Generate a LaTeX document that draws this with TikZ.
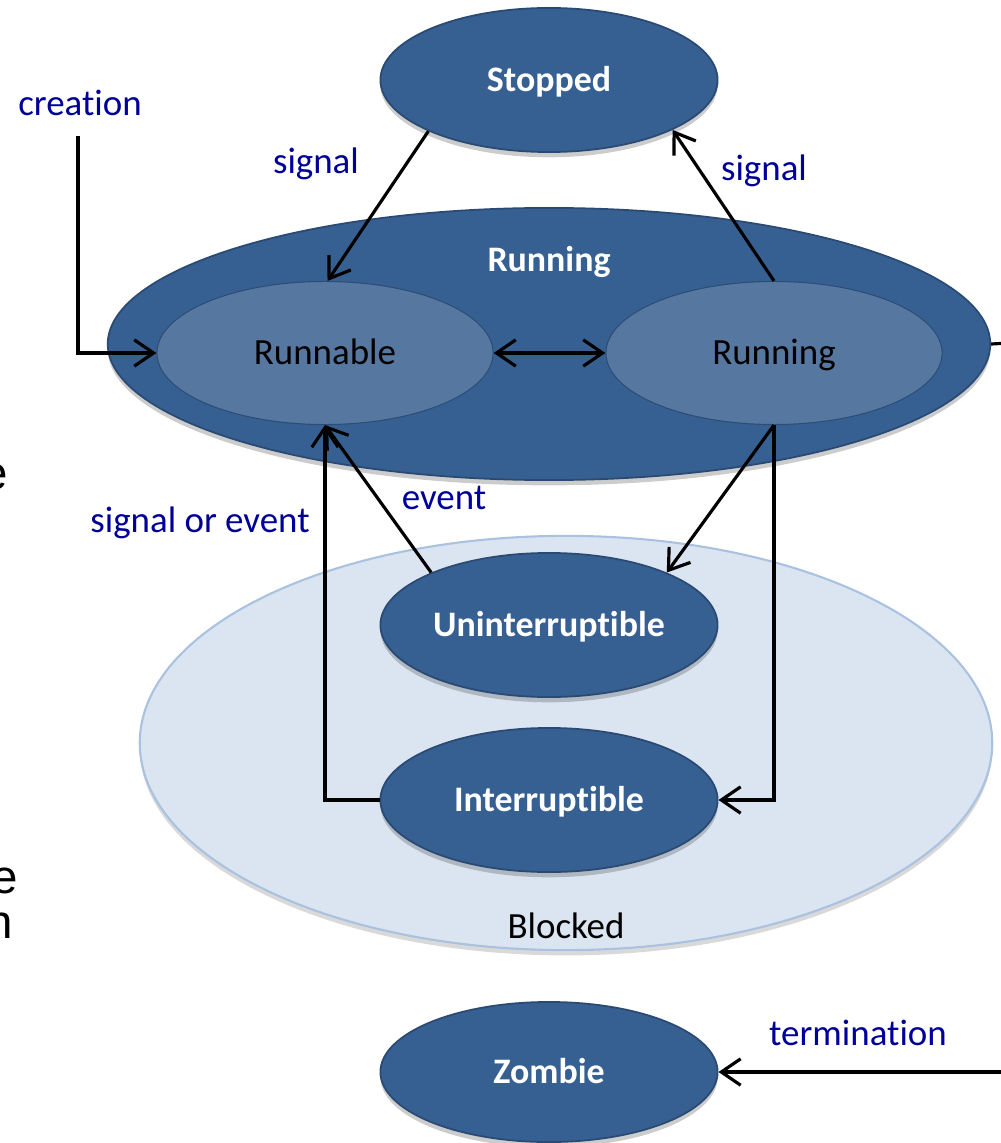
\documentclass[tikz,border=0pt]{standalone}
\usepackage{fontspec}
\setmainfont{Carlito}[Ligatures=CommonOff]
\newfontfamily\slidefont{Liberation Sans}
\usetikzlibrary{arrows.meta,shapes.geometric,shadows}

\definecolor{statefill}{RGB}{55,96,146}
\definecolor{stateborder}{RGB}{42,74,115}
\definecolor{innerfill}{RGB}{86,119,160}
\definecolor{blockfill}{RGB}{219,229,241}
\definecolor{blockborder}{RGB}{170,194,224}
\definecolor{lblblue}{RGB}{0,0,153}

\begin{document}
\begin{tikzpicture}[x=0.01cm, y=-0.01cm,
    every node/.style={font=\fontsize{10.5}{12}\selectfont},
    >={Straight Barb[length=5.5pt,width=7.5pt]},
    state/.style={ellipse, draw=stateborder, fill=statefill, line width=0.5pt,
        minimum width=3.37cm, minimum height=1.44cm, inner sep=0pt, text=white,
        text height=8pt, text depth=1.2pt,
        font=\fontsize{10.2}{12}\selectfont\bfseries,
        drop shadow={shadow xshift=0pt, shadow yshift=-1.5pt, opacity=0.2, fill=black}},
    inner/.style={ellipse, fill=innerfill, draw=statefill!80!black, line width=0.3pt,
        minimum width=3.36cm, minimum height=1.43cm, inner sep=0pt, text=black,
        text height=8pt, text depth=1.2pt},
    lbl/.style={text=lblblue, anchor=base, inner sep=0pt},
    flow/.style={line width=0.9pt, ->},
    frag/.style={font=\slidefont\fontsize{13.5}{16}\selectfont, anchor=base east, inner sep=0pt}]
    \useasboundingbox (0,0) rectangle (1001,1143);

    % blocked area and running area
    \node[ellipse, fill=blockfill, draw=blockborder, line width=0.6pt,
        minimum width=8.52cm, minimum height=4.14cm,
        drop shadow={shadow xshift=0pt, shadow yshift=-1.5pt, opacity=0.15, fill=black}]
        (blocked) at (566,743) {};
    \node[anchor=base] (blockedtxt) at (566,938) {Blocked};
    \node[state, minimum width=8.82cm, minimum height=2.72cm] (runstate) at (549,344) {};
    \node[anchor=base, text=white, font=\fontsize{10.2}{12}\selectfont\bfseries]
        (runtitle) at (549,272) {Running};

    % states
    \node[state] (stopped) at (549,80) {Stopped};
    \node[inner] (runnable) at (325,353) {Runnable};
    \node[inner] (running) at (774,353) {Running};
    \node[state] (unint) at (549,625) {Uninterruptible};
    \node[state] (interr) at (549,800) {Interruptible};
    \node[state, minimum height=1.40cm] (zombie) at (549,1072) {Zombie};

    \coordinate (creationend) at (78,136);
    \coordinate (rightstub) at (1010,343);
    \coordinate (termend) at (1010,1072);

    % transitions
    \draw[flow] (creationend) |- (runnable.west);
    \draw[flow] (stopped.203) -- (runnable.88);
    \draw[flow] (running.north) -- (stopped.-22);
    \draw[flow, <->] (runnable.east) -- (running.west);
    \draw[flow] (unint.156) -- (runnable.south);
    \draw[flow] (interr.west) -| (runnable.south);
    \draw[flow] (running.south) -- (unint.24);
    \draw[flow] (running.south) |- (interr.east);
    \draw[line width=0.9pt] (runstate.east) -- (rightstub);
    \draw[flow] (termend) -- (zombie.east);

    % labels
    \node[lbl] (creationlbl) at (80,116) {creation};
    \node[lbl] (signalleft) at (316,174) {signal};
    \node[lbl] (signalright) at (764,181) {signal};
    \node[lbl] (eventlbl) at (444,509) {event};
    \node[lbl] (sigevlbl) at (200,532) {signal or event};
    \node[lbl] (termlbl) at (858,1045) {termination};

    % cut-off text at the left edge
    \node[frag] (fragA) at (9,489) {e};
    \node[frag] (fragB) at (19,893) {e};
    \node[frag] (fragC) at (14,938) {n};
\end{tikzpicture}
\end{document}
